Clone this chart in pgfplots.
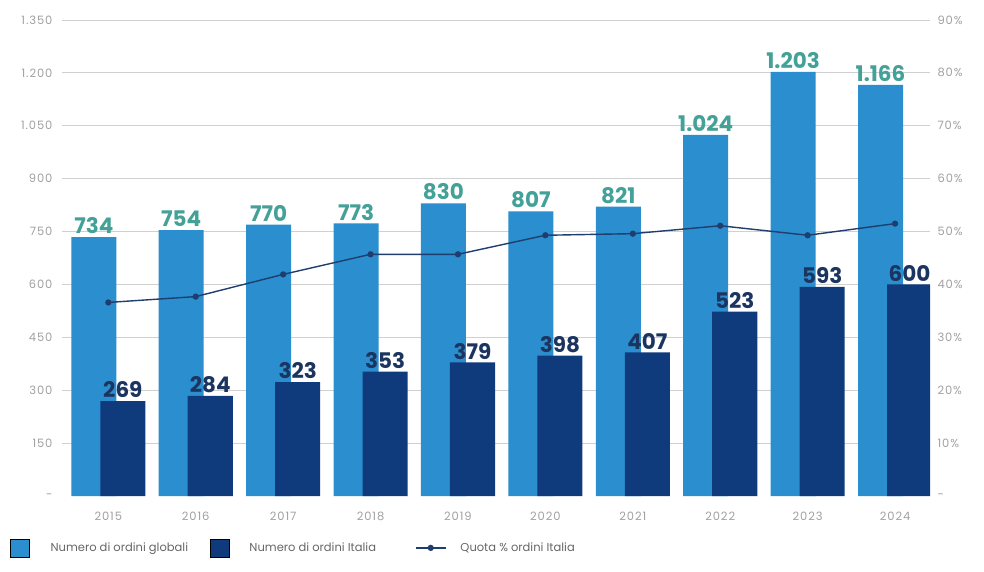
\documentclass[border=0pt]{standalone}
\usepackage{pgfplots}
\pgfplotsset{compat=1.18}
\usepackage{fontspec}
\setmainfont{Poppins}
\newfontfamily\tickfont{Poppins}[LetterSpace=8]

\definecolor{globalblue}{HTML}{2A8ECF}
\definecolor{italiablue}{HTML}{0F3B7D}
\definecolor{quotaline}{HTML}{1F3E6E}
\definecolor{globallabel}{HTML}{44A198}
\definecolor{italialabel}{HTML}{1C3560}
\definecolor{tickgray}{HTML}{A0A0A0}
\definecolor{legendgray}{HTML}{666666}
\definecolor{gridgray}{HTML}{D0D0D0}

\pgfplotsset{
  sqlegend/.style={legend image code/.code={\fill[##1] (0pt,-9pt) rectangle (19pt,9pt);}},
  linelegend/.style={legend image code/.code={\draw[mark repeat=2, mark phase=2, ##1]
    plot coordinates {(0pt,0pt) (15pt,0pt) (30pt,0pt)};}},
}

\begin{document}
\begin{tikzpicture}
\useasboundingbox (-62pt,-75pt) rectangle (922pt,496pt);

% Orders: bars on the left axis
\begin{axis}[
  scale only axis, width=868pt, height=476pt,
  at={(0pt,0pt)}, anchor=south west,
  xmin=-0.53, xmax=9.4, ymin=0, ymax=1350,
  ybar, bar width=0.515,
  xtick={0,...,9},
  xticklabels={2015,2016,2017,2018,2019,2020,2021,2022,2023,2024},
  ytick={150,300,...,1350},
  yticklabels={150,300,450,600,750,900,1.050,1.200,1.350},
  extra y ticks={0}, extra y tick labels={-},
  extra y tick style={grid=none},
  ymajorgrids, grid style={draw=gridgray, line width=0.9pt},
  axis line style={draw=none}, major tick length=0pt,
  tick label style={font=\tickfont\fontsize{11.5}{13}\selectfont, text=tickgray},
  yticklabel style={xshift=-6pt},
  xticklabel style={yshift=-12pt},
  /pgf/number format/1000 sep={.},
  /pgf/number format/assume math mode=true,
  nodes near coords,
  every node near coord/.append style={font=\fontsize{21.5}{24}\bfseries, inner sep=3pt},
]
\addplot[bar shift=-0.166, fill=globalblue, draw=none,
  every node near coord/.append style={text=globallabel}]
  coordinates {(0,734) (1,754) (2,770) (3,773) (4,830) (5,807) (6,821) (7,1024) (8,1203) (9,1166)};
\addplot[bar shift=0.166, fill=italiablue, draw=none,
  every node near coord/.append style={text=italialabel}]
  coordinates {(0,269) (1,284) (2,323) (3,353) (4,379) (5,398) (6,407) (7,523) (8,593) (9,600)};
\end{axis}

% Italian share: line on the right axis
\begin{axis}[
  scale only axis, width=868pt, height=476pt,
  at={(0pt,0pt)}, anchor=south west,
  xmin=-0.53, xmax=9.4, ymin=0, ymax=90,
  axis y line*=right, axis x line=none,
  ytick={10,20,...,90},
  yticklabels={10\%,20\%,30\%,40\%,50\%,60\%,70\%,80\%,90\%},
  extra y ticks={0}, extra y tick labels={-},
  axis line style={draw=none}, major tick length=0pt,
  tick label style={font=\tickfont\fontsize{11.5}{13}\selectfont, text=tickgray},
  yticklabel style={xshift=4pt},
  legend columns=3,
  legend cell align=left,
  legend style={at={(-0.0599,-0.109)}, anchor=west, draw=none, fill=none,
    inner sep=0pt, font=\fontsize{11.5}{13}\selectfont, text=legendgray,
    /tikz/every even column/.append style={column sep=21pt},
    nodes={inner sep=1pt}},
]
\addlegendimage{sqlegend, fill=globalblue}
\addlegendentry{\hspace{20pt}Numero di ordini globali}
\addlegendimage{sqlegend, fill=italiablue}
\addlegendentry{\hspace{19pt}Numero di ordini Italia\hspace*{17pt}\mbox{}}
\addplot[color=quotaline, line width=1.4pt, mark=*, mark size=2.4pt, linelegend]
  coordinates {(0,36.6) (1,37.7) (2,41.9) (3,45.7) (4,45.7) (5,49.3) (6,49.6) (7,51.1) (8,49.3) (9,51.5)};
\addlegendentry{\hspace{13pt}Quota \% ordini Italia}
\end{axis}
\end{tikzpicture}
\end{document}
